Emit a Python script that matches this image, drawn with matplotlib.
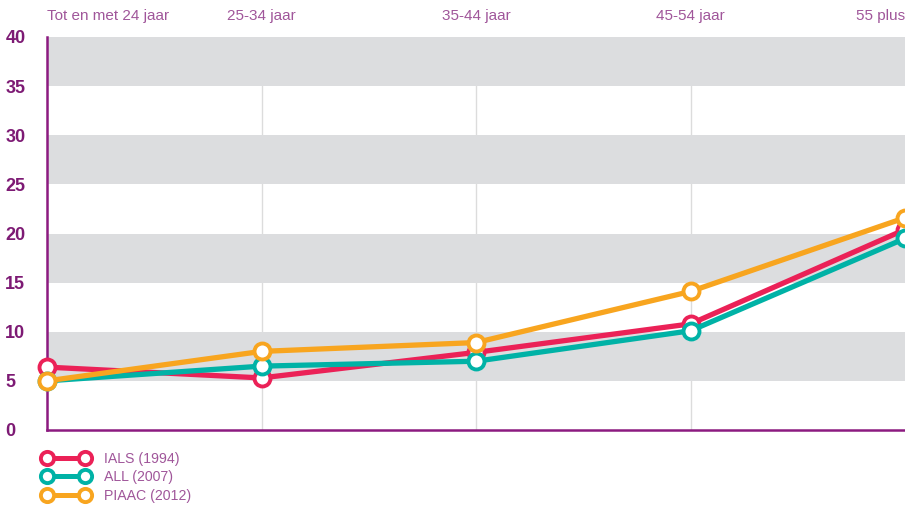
import matplotlib.pyplot as plt
from matplotlib.lines import Line2D

plt.rcParams['font.family'] = ['Liberation Sans', 'DejaVu Sans']

# data
categories = ['Tot en met 24 jaar', '25-34 jaar', '35-44 jaar', '45-54 jaar', '55 plus']
ials = [6.4, 5.3, 7.9, 10.8, 20.4]
all_2007 = [5.0, 6.5, 7.0, 10.1, 19.5]
piaac = [5.0, 8.0, 8.9, 14.1, 21.6]
series_names = ['IALS (1994)', 'ALL (2007)', 'PIAAC (2012)']
yticks = [0, 5, 10, 15, 20, 25, 30, 35, 40]

purple = '#7d1a74'
label_purple = '#a0569a'
colors = ['#eb2157', '#00b2a6', '#f8a51f']

fig = plt.figure(figsize=(9.05, 5.12), dpi=100)
ax = fig.add_axes([47 / 905, 1 - 430 / 512, 1 - 47 / 905, 393 / 512])

x = list(range(len(categories)))

# grey bands
for lo in [5, 15, 25, 35]:
    ax.axhspan(lo, lo + 5, color='#dcdddf', zorder=1, lw=0)
for xi in x[1:-1]:
    ax.axvline(xi, color='#dcdcdc', lw=1, zorder=0.5)

handles = []
for vals, c, name in zip([ials, all_2007, piaac], colors, series_names):
    ax.plot(x, vals, color=c, lw=3.8, marker='o', ms=11.5, mfc='white',
            mec=c, mew=2.8, zorder=5, clip_on=False)
    handles.append(Line2D([], [], color=c, lw=3.6, marker='o', ms=9.5,
                          mfc='white', mec=c, mew=2.8, label=name))

ax.set_xlim(0, 4)
ax.set_ylim(0, 40)
ax.set_yticks(yticks)
ax.set_yticklabels([str(v) for v in yticks], fontsize=13, fontweight='bold', color=purple)
ax.tick_params(axis='y', length=0, pad=30)
for lbl in ax.get_yticklabels():
    lbl.set_horizontalalignment('left')

ax.set_xticks(x)
ax.set_xticklabels(categories, fontsize=11, color=label_purple)
ax.xaxis.tick_top()
ax.tick_params(axis='x', length=0, pad=10)
ax.get_xticklabels()[0].set_horizontalalignment('left')
ax.get_xticklabels()[-1].set_horizontalalignment('right')

for side in ['top', 'right']:
    ax.spines[side].set_visible(False)
for side in ['left', 'bottom']:
    ax.spines[side].set_color('#8c1a80')
    ax.spines[side].set_linewidth(1.8)
    ax.spines[side].set_zorder(4)

fig.legend(handles=handles, loc='upper left', bbox_to_anchor=(40 / 905, 1 - 449 / 512),
           frameon=False, fontsize=10.2, labelcolor=label_purple, handlelength=3.3,
           labelspacing=0.32, handletextpad=1.0, numpoints=2, borderaxespad=0,
           borderpad=0.2)

fig.savefig('out.png', dpi=100)
